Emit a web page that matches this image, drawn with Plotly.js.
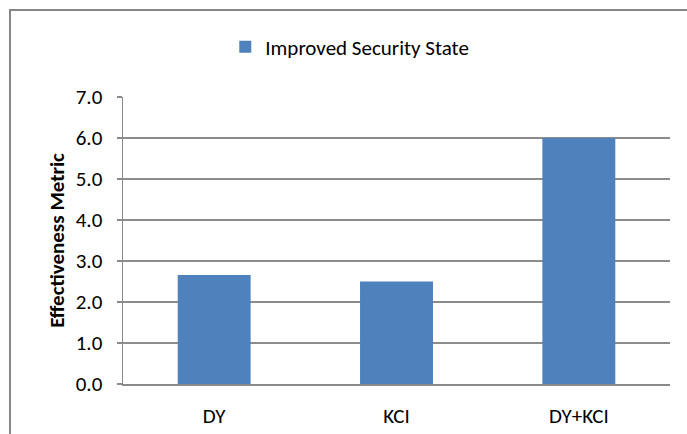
<!DOCTYPE html>
<html>
<head>
<meta charset="utf-8">
<script src="https://cdn.plot.ly/plotly-3.0.1.min.js"></script>
<style>
  html, body { margin: 0; padding: 0; background: #ffffff; }
  #wrap { position: relative; width: 687px; height: 434px; overflow: hidden; }
  #chart { position: absolute; left: 0; top: 0; width: 687px; height: 434px; }
  /* chart-area frame, open on the right and bottom */
  #frame { position: absolute; left: 9px; top: 9px; width: 700px; height: 450px;
           border-left: 2px solid #878787; border-top: 2px solid #878787;
           pointer-events: none; }
</style>
</head>
<body>
<div id="wrap">
  <div id="chart"></div>
  <div id="frame"></div>
</div>
<script>
// Effectiveness of each configuration
const categories = ["DY", "KCI", "DY+KCI"];
const seriesName = "Improved Security State";
const effectiveness = [2.66, 2.5, 6.0];
const yTickValues = [0, 1, 2, 3, 4, 5, 6, 7];
const yTickLabels = ["0.0", "1.0", "2.0", "3.0", "4.0", "5.0", "6.0", "7.0"];

const font = "Carlito, Calibri, Lato, 'Noto Sans', sans-serif";

const trace = {
  type: "bar",
  x: categories,
  y: effectiveness,
  name: seriesName,
  marker: { color: "#4f81bd", line: { width: 0 } },
  width: 0.4,
  showlegend: true
};

const layout = {
  width: 687,
  height: 434,
  margin: { l: 123, r: 17, t: 97, b: 50 },
  paper_bgcolor: "#ffffff",
  plot_bgcolor: "#ffffff",
  font: { family: font, size: 21, color: "#000000" },
  showlegend: true,
  legend: {
    orientation: "h",
    x: 0.187, xanchor: "left",
    y: 1.174, yanchor: "middle",
    font: { family: font, size: 21, color: "#000000" },
    itemwidth: 30,
    bgcolor: "rgba(0,0,0,0)"
  },
  xaxis: {
    type: "category",
    showgrid: false,
    showline: true,
    linecolor: "#898989",
    linewidth: 1.5,
    ticks: "",
    ticklabelstandoff: 12,
    tickfont: { family: font, size: 21, color: "#000000" },
    fixedrange: true
  },
  yaxis: {
    range: [0, 7],
    tickvals: yTickValues,
    ticktext: yTickLabels,
    showgrid: true,
    gridcolor: "#8c8c8c",
    gridwidth: 1.5,
    zeroline: false,
    showline: true,
    linecolor: "#898989",
    linewidth: 1.5,
    ticks: "outside",
    ticklen: 5,
    tickcolor: "#898989",
    tickwidth: 1.5,
    ticklabelstandoff: 10,
    tickfont: { family: font, size: 21, color: "#000000" },
    title: {
      text: "<b>Effectiveness Metric</b>",
      font: { family: font, size: 21, color: "#000000" },
      standoff: 5
    },
    fixedrange: true
  },
  bargap: 0.6
};

Plotly.newPlot("chart", [trace], layout, { displayModeBar: false, staticPlot: true });
</script>
</body>
</html>
